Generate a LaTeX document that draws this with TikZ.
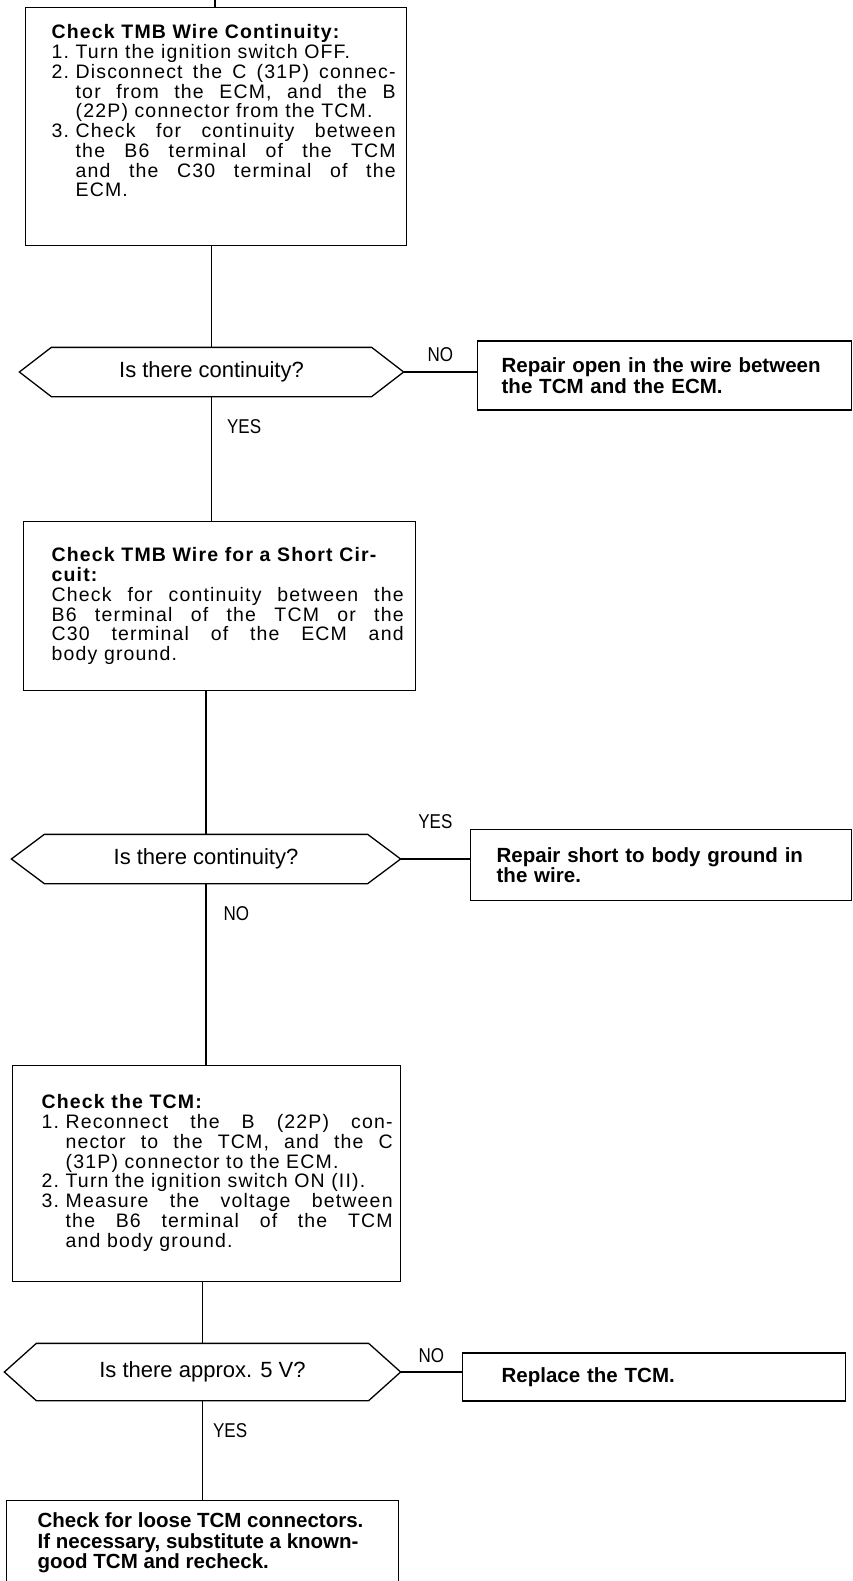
\documentclass[tikz,border=0pt]{standalone}
\usepackage{fontspec}
\setmainfont{Liberation Sans}
\newfontfamily\bodyfont[LetterSpace=6]{Liberation Sans}
\newfontfamily\lblfont[FakeStretch=0.85]{Liberation Sans}
\usetikzlibrary{positioning,calc}
\setlength\parindent{0pt}

% numbered step with hanging indent
\newcommand\numitem[2]{\par\hangindent=24pt\hangafter=1\noindent\makebox[24pt][l]{#1}#2\par}
% hexagonal question frame round a node
\newcommand\hexframe[3]{%
  \draw (#1.north west) -- ($(#1.west)+(-#2,0)$) -- (#1.south west) -- (#1.south east)
    -- ($(#1.east)+(#3,0)$) -- (#1.north east) -- cycle;
  \coordinate (#1tip) at ($(#1.east)+(#3,0)$);}

\begin{document}
\begin{tikzpicture}[x=1pt,y=-1pt,line width=1.3pt,
  frame/.style={draw,inner sep=0pt,anchor=north west},
  body/.style={anchor=north west,inner sep=0pt,align=justify,
    font=\bodyfont\fontsize{19.5}{19.75}\selectfont},
  res/.style={draw,anchor=west,align=left,inner ysep=0pt,
    font=\bfseries\fontsize{20.5}{20.5}\selectfont},
  quest/.style={inner sep=0pt,font=\fontsize{22}{24}\selectfont},
  lbl/.style={inner sep=0pt,font=\lblfont\fontsize{20}{22}\selectfont}]
\useasboundingbox (0,0) rectangle (853,1581);
\clip (0,0) rectangle (853,1581);

% step boxes
\coordinate (entry) at (215,0);
\node[frame,minimum width=381pt,minimum height=238pt] (b1) at (25,7) {};
\node[body,text width=344pt] (b1t) at (51,24) {{\bfseries Check TMB Wire Continuity:}\par
  \numitem{1.}{Turn the ignition switch OFF.}
  \numitem{2.}{Disconnect the C (31P) connec-\linebreak tor from the ECM, and the B\linebreak (22P) connector from the TCM.}
  \numitem{3.}{Check for continuity between\linebreak the B6 terminal of the TCM\linebreak and the C30 terminal of the\linebreak ECM.}};

\node[frame,minimum width=392pt,minimum height=169pt] (b2) at (23,521) {};
\node[body,text width=352pt] (b2t) at (51,547) {{\bfseries Check TMB Wire for a Short Cir-\\cuit:}\par
  Check for continuity between the\linebreak B6 terminal of the TCM or the\linebreak C30 terminal of the ECM and\linebreak body ground.\par};

\node[frame,minimum width=388pt,minimum height=216pt] (b3) at (12,1065) {};
\node[body,text width=351pt] (b3t) at (41,1094) {{\bfseries Check the TCM:}\par
  \numitem{1.}{Reconnect the B (22P) con-\linebreak nector to the TCM, and the C\linebreak (31P) connector to the ECM.}
  \numitem{2.}{Turn the ignition switch ON (II).}
  \numitem{3.}{Measure the voltage between\linebreak the B6 terminal of the TCM\linebreak and body ground.}};

\node[frame,minimum width=392pt,minimum height=130pt] (b4) at (6,1500) {};
\node[anchor=north west,inner sep=0pt,align=left,font=\bfseries\fontsize{20.5}{20.5}\selectfont] (b4t) at (37,1512)
  {Check for loose TCM connectors.\\If necessary, substitute a known-\\good TCM and recheck.};

% questions
\node[quest,minimum width=319pt,minimum height=48pt] (h1) at (211.5,372) {Is there continuity?};
\hexframe{h1}{32}{32}
\node[quest,minimum width=322pt,minimum height=48pt] (h2) at (206,859) {Is there continuity?};
\hexframe{h2}{33}{33}
\node[quest,minimum width=331pt,minimum height=56pt] (h3) at (202.5,1372) {Is there approx. 5 V?};
\hexframe{h3}{32}{32}

% results
\node[res,minimum width=374pt,minimum height=69pt,inner xsep=24pt,text width=326pt] (r1) at (477,375.5)
  {Repair open in the wire between\\the TCM and the ECM.};
\node[res,minimum width=381pt,minimum height=71pt,inner xsep=26pt,text width=329pt] (r2) at (470,865)
  {Repair short to body ground in\\the wire.};
\node[res,minimum width=383pt,minimum height=48pt,inner xsep=39pt,text width=305pt] (r3) at (462,1377)
  {Replace the TCM.};

% connectors
\draw (entry) -- (entry |- b1.north);
\draw (h1.north) -- (h1.north |- b1.south);
\draw (h1.south) -- (h1.south |- b2.north);
\draw (h2.north) -- (h2.north |- b2.south);
\draw (h2.south) -- (h2.south |- b3.north);
\draw (h3.north) -- (h3.north |- b3.south);
\draw (h3.south) -- (h3.south |- b4.north);
\draw (h1tip) -- node[lbl,above=10pt] {NO} (h1tip -| r1.west);
\draw (h2tip) -- node[lbl,above=30pt] {YES} (h2tip -| r2.west);
\draw (h3tip) -- node[lbl,above=9pt] {NO} (h3tip -| r3.west);
\node[lbl,below right=22pt and 15pt of h1.south] (y1) {YES};
\node[lbl,below right=22pt and 17pt of h2.south] (n2) {NO};
\node[lbl,below right=22pt and 10pt of h3.south] (y3) {YES};
\end{tikzpicture}
\end{document}
